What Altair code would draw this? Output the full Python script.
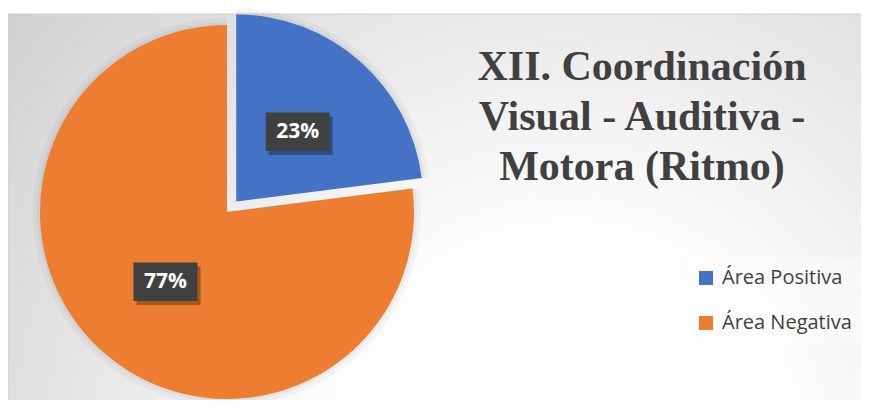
import altair as alt
import pandas as pd

# ---- data ----
categories = ["Área Positiva", "Área Negativa"]
values = [23, 77]
label_texts = ["23%", "77%"]
title_lines = ["XII. Coordinación", "Visual - Auditiva -", "Motora (Ritmo)"]

# ---- styles / layout ----
colors = ["#4472C4", "#ED7D31"]
W, H = 853, 386
CX, CY, R = 219, 198, 187
EXPLODE = 14
LABEL_R = 93

df = pd.DataFrame({
    "categoria": categories,
    "valor": values,
    "orden": list(range(len(categories))),
    "etiqueta": label_texts,
})

base = (
    alt.Chart(df)
    .transform_window(fin="sum(valor)", sort=[alt.SortField("orden")], frame=[None, 0])
    .transform_joinaggregate(total="sum(valor)")
    .transform_calculate(
        a0="(datum.fin - datum.valor) / datum.total * 2 * PI",
        a1="datum.fin / datum.total * 2 * PI",
    )
    .transform_calculate(
        mid="(datum.a0 + datum.a1) / 2",
        ex=f"datum.categoria == '{categories[0]}' ? {EXPLODE} : 0",
    )
    .transform_calculate(
        cx=f"{CX} + datum.ex * sin(datum.mid)",
        cy=f"{CY} - datum.ex * cos(datum.mid)",
    )
    .transform_calculate(
        lx=f"datum.cx + {LABEL_R} * sin(datum.mid)",
        ly=f"datum.cy - {LABEL_R} * cos(datum.mid)",
    )
)

bg = alt.Chart(alt.Data(values=[{}])).mark_rect(
    fill=alt.RadialGradient(
        gradient="radial",
        stops=[
            alt.GradientStop(color="#ffffff", offset=0),
            alt.GradientStop(color="#fcfcfc", offset=0.3),
            alt.GradientStop(color="#c6c6c6", offset=1),
        ],
        x1=0.64, y1=0.78, r1=0, x2=0.64, y2=0.78, r2=0.95,
    ),
    stroke="#d0d0d0",
    strokeWidth=1,
).encode(x=alt.value(0), x2=alt.value(W + 20), y=alt.value(0), y2=alt.value(H + 20))

xenc = alt.X("cx:Q", scale=None, axis=None)
yenc = alt.Y("cy:Q", scale=None, axis=None)

shadow1 = base.mark_arc(radius=R + 7, color="#000000", opacity=0.03).encode(
    theta=alt.Theta("a0:Q", scale=None), theta2=alt.Theta2("a1:Q"), x=xenc, y=yenc
)
shadow2 = base.mark_arc(radius=R + 3, color="#000000", opacity=0.04).encode(
    theta=alt.Theta("a0:Q", scale=None), theta2=alt.Theta2("a1:Q"), x=xenc, y=yenc
)

arcs = base.mark_arc(radius=R).encode(
    theta=alt.Theta("a0:Q", scale=None),
    theta2=alt.Theta2("a1:Q"),
    x=xenc,
    y=yenc,
    color=alt.Color(
        "categoria:N",
        scale=alt.Scale(domain=categories, range=colors),
        legend=alt.Legend(
            title=None,
            orient="none",
            legendX=677,
            legendY=243,
            symbolType="square",
            symbolSize=196,
            symbolStrokeWidth=0,
            symbolOpacity=1,
            labelFont="Open Sans",
            labelFontSize=20,
            labelColor="#404040",
            rowPadding=25,
            labelOffset=6,
            padding=11,
            fillColor="rgba(255,255,255,0.35)",
        ),
    ),
)

lxenc = alt.X("lx:Q", scale=None, axis=None)
lyenc = alt.Y("ly:Q", scale=None, axis=None)
box_shape = "M-1,-0.6L1,-0.6L1,0.6L-1,0.6Z"

box_shadow = base.mark_point(
    shape=box_shape, size=64 * 64, filled=True, color="#000000", opacity=0.3,
    strokeWidth=0, xOffset=3, yOffset=4,
).encode(x=lxenc, y=lyenc)

boxes = base.mark_point(
    shape=box_shape, size=64 * 64, filled=True, color="#404040", opacity=1, strokeWidth=0,
).encode(x=lxenc, y=lyenc)

labels = base.mark_text(
    font="Open Sans", fontSize=21, fontWeight="bold", color="#ffffff"
).encode(x=lxenc, y=lyenc, text="etiqueta:N")

title = alt.Chart(alt.Data(values=[{}])).mark_text(
    font="Liberation Serif",
    fontSize=42,
    fontWeight="bold",
    color="#404040",
    lineHeight=50,
    align="center",
    baseline="alphabetic",
    text=title_lines,
).encode(x=alt.value(634), y=alt.value(66))

chart = (
    alt.layer(bg, shadow1, shadow2, arcs, box_shadow, boxes, labels, title)
    .properties(
        width=W,
        height=H,
        autosize="none",
        padding={"left": 0, "top": 6, "right": 0, "bottom": 0},
        background="#ffffff",
    )
    .configure_view(stroke=None)
)

chart.save("out.html", embed_options={"renderer": "svg", "actions": False})
